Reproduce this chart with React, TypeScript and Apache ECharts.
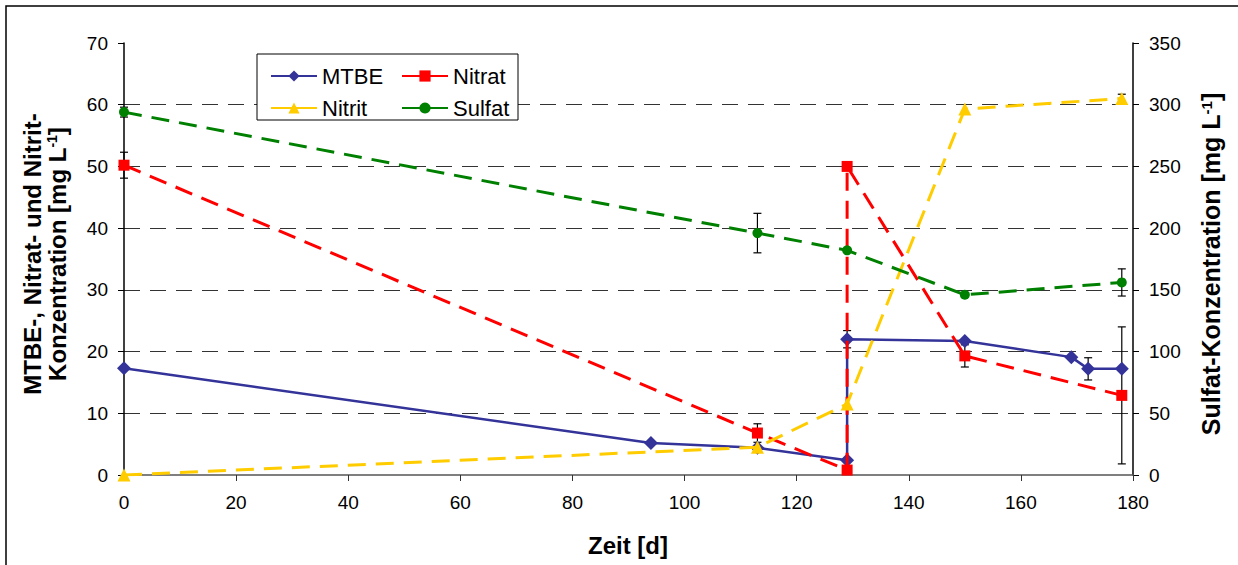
import React, { useEffect, useRef } from "react";
import * as echarts from "echarts";

// Zeit [d] and concentrations per measured substance
const mtbeDays = [0, 94, 113, 129, 129, 150, 169, 172, 178];
const mtbeValues = [17.3, 5.2, 4.4, 2.4, 22.0, 21.7, 19.1, 17.2, 17.2];

const nitratDays = [0, 113, 129, 129, 150, 178];
const nitratValues = [50.2, 6.8, 0.8, 50.0, 19.3, 12.9];

const nitritDays = [0, 113, 129, 150, 178];
const nitritValues = [0, 4.5, 11.5, 59.3, 61.0];

const sulfatDays = [0, 113, 129, 150, 178];
const sulfatValues = [294, 196, 182, 146, 156];

// Standard deviations (only where measured)
const mtbeErrDays = [129, 172];
const mtbeErrCenter = [22.0, 17.2];
const mtbeErrDelta = [1.4, 1.8];

const nitratErrDays = [0, 113, 150, 178];
const nitratErrCenter = [50.2, 6.8, 19.3, 12.9];
const nitratErrDelta = [2.1, 1.5, 1.8, 11.1];

const nitritErrDays = [178];
const nitritErrCenter = [61.0];
const nitritErrDelta = [0.7];

const sulfatErrDays = [0, 113, 178];
const sulfatErrCenter = [294, 196, 156];
const sulfatErrDelta = [4, 16, 11];

const xTicks = { min: 0, max: 180, interval: 20 };
const leftTicks = { min: 0, max: 70, interval: 10 };
const rightTicks = { min: 0, max: 350, interval: 50 };

const FONT = "'Liberation Sans', Arial, sans-serif";

const pairs = (xs: number[], ys: number[]) => xs.map((x, i) => [x, ys[i]]);
const errRows = (xs: number[], c: number[], d: number[]) =>
  xs.map((x, i) => [x, c[i] - d[i], c[i] + d[i]]);

const errorBarSeries = (name: string, data: number[][], yAxisIndex: number) => ({
  type: "custom",
  name,
  xAxisIndex: 0,
  yAxisIndex,
  data,
  z: 1,
  silent: true,
  encode: { x: 0, y: [1, 2] },
  renderItem: (_params: any, api: any) => {
    const x = api.value(0);
    const lo = api.coord([x, api.value(1)]);
    const hi = api.coord([x, api.value(2)]);
    const cw = 4;
    const st = { stroke: "#000", lineWidth: 1.2 };
    return {
      type: "group",
      children: [
        { type: "line", shape: { x1: lo[0], y1: lo[1], x2: hi[0], y2: hi[1] }, style: st },
        { type: "line", shape: { x1: lo[0] - cw, y1: lo[1], x2: lo[0] + cw, y2: lo[1] }, style: st },
        { type: "line", shape: { x1: hi[0] - cw, y1: hi[1], x2: hi[0] + cw, y2: hi[1] }, style: st },
      ],
    };
  },
});

const makeRich = (size: number) => ({
  b: { fontSize: size, fontWeight: "bold", fontFamily: FONT, lineHeight: 25, fill: "#000" },
  s: { fontSize: Math.round(size * 0.6), fontWeight: "bold", fontFamily: FONT, lineHeight: 15, verticalAlign: "top", fill: "#000" },
});

export default function App() {
  const ref = useRef<HTMLDivElement>(null);

  useEffect(() => {
    document.body.style.margin = "0";
    if (!ref.current) return;
    const chart = echarts.init(ref.current, undefined, { renderer: "svg" });

    const dash = [18, 10];
    const legendText = { color: "#000", fontSize: 22, fontFamily: FONT, lineHeight: 22 };

    chart.setOption({
      animation: false,
      backgroundColor: "#fff",
      textStyle: { fontFamily: FONT },
      grid: { left: 124, right: 105, top: 43, bottom: 90, containLabel: false },
      xAxis: {
        type: "value",
        ...xTicks,
        axisLine: { show: true, lineStyle: { color: "#555", width: 1.5 } },
        axisTick: { show: true, inside: false, length: 6, lineStyle: { color: "#333", width: 1 } },
        axisLabel: { color: "#000", fontSize: 19, fontFamily: FONT, margin: 18 },
        splitLine: { show: false },
      },
      yAxis: [
        {
          type: "value",
          position: "left",
          ...leftTicks,
          axisLine: { show: true, lineStyle: { color: "#000", width: 1.5 } },
          axisTick: { show: true, inside: false, length: 6, lineStyle: { color: "#000", width: 1 } },
          axisLabel: { color: "#000", fontSize: 19, fontFamily: FONT, margin: 16 },
          splitLine: {
            show: true,
            showMinLine: false,
            showMaxLine: false,
            lineStyle: { color: "#333", width: 1, type: [16, 10] },
          },
        },
        {
          type: "value",
          position: "right",
          ...rightTicks,
          axisLine: { show: true, lineStyle: { color: "#000", width: 1.5 } },
          axisTick: { show: true, inside: false, length: 6, lineStyle: { color: "#000", width: 1 } },
          axisLabel: { color: "#000", fontSize: 19, fontFamily: FONT, margin: 16 },
          splitLine: { show: false },
        },
      ],
      legend: [
        {
          left: 265,
          top: 60,
          orient: "vertical",
          itemWidth: 46,
          itemHeight: 14,
          itemGap: 10,
          z: 10,
          data: ["MTBE", "Nitrit"],
          textStyle: legendText,
          lineStyle: { type: "solid" },
        },
        {
          left: 396,
          top: 60,
          orient: "vertical",
          itemWidth: 46,
          itemHeight: 14,
          itemGap: 10,
          z: 10,
          data: ["Nitrat", "Sulfat"],
          textStyle: legendText,
          lineStyle: { type: "solid" },
        },
      ],
      graphic: [
        {
          type: "rect",
          z: 5,
          shape: { x: 257, y: 54, width: 261, height: 66 },
          style: { fill: "#fff", stroke: "#000", lineWidth: 1 },
        },
        {
          type: "rect",
          z: 5,
          shape: { x: 6, y: 6, width: 1250, height: 580 },
          style: { fill: "none", stroke: "#000", lineWidth: 1.5 },
        },
        {
          type: "text",
          z: 6,
          x: 628,
          y: 545,
          style: {
            text: "Zeit [d]",
            fontFamily: FONT,
            fontSize: 24,
            fontWeight: "bold",
            fill: "#000",
            textAlign: "center",
            textVerticalAlign: "middle",
          },
        },
        {
          type: "text",
          z: 6,
          x: 45,
          y: 254,
          rotation: Math.PI / 2,
          style: {
            text: "{b|MTBE-, Nitrat- und Nitrit-}\n{b|Konzentration [mg L}{s|-1}{b|]}",
            fontFamily: FONT,
            fill: "#000",
            textAlign: "center",
            textVerticalAlign: "middle",
            rich: makeRich(24),
          },
        },
        {
          type: "text",
          z: 6,
          x: 1211,
          y: 264,
          rotation: Math.PI / 2,
          style: {
            text: "{b|Sulfat-Konzentration [mg L}{s|-1}{b|]}",
            fontFamily: FONT,
            fill: "#000",
            textAlign: "center",
            textVerticalAlign: "middle",
            rich: makeRich(25),
          },
        },
      ],
      series: [
        errorBarSeries("errMTBE", errRows(mtbeErrDays, mtbeErrCenter, mtbeErrDelta), 0),
        errorBarSeries("errNitrat", errRows(nitratErrDays, nitratErrCenter, nitratErrDelta), 0),
        errorBarSeries("errNitrit", errRows(nitritErrDays, nitritErrCenter, nitritErrDelta), 0),
        errorBarSeries("errSulfat", errRows(sulfatErrDays, sulfatErrCenter, sulfatErrDelta), 1),
        {
          type: "line",
          name: "MTBE",
          data: pairs(mtbeDays, mtbeValues),
          yAxisIndex: 0,
          z: 3,
          color: "#333399",
          symbol: "diamond",
          symbolSize: 14,
          lineStyle: { color: "#333399", width: 2.5, type: "solid" },
          itemStyle: { color: "#333399" },
        },
        {
          type: "line",
          name: "Nitrat",
          data: pairs(nitratDays, nitratValues),
          yAxisIndex: 0,
          z: 4,
          color: "#FF0000",
          symbol: "rect",
          symbolSize: 11,
          lineStyle: { color: "#FF0000", width: 3, type: dash },
          itemStyle: { color: "#FF0000" },
        },
        {
          type: "line",
          name: "Nitrit",
          data: pairs(nitritDays, nitritValues),
          yAxisIndex: 0,
          z: 4,
          color: "#FFCC00",
          symbol: "triangle",
          symbolSize: 13,
          lineStyle: { color: "#FFCC00", width: 3, type: dash },
          itemStyle: { color: "#FFCC00" },
        },
        {
          type: "line",
          name: "Sulfat",
          data: pairs(sulfatDays, sulfatValues),
          yAxisIndex: 1,
          z: 4,
          color: "#008000",
          symbol: "circle",
          symbolSize: 10,
          lineStyle: { color: "#008000", width: 3, type: dash },
          itemStyle: { color: "#008000" },
        },
      ],
    });

    return () => chart.dispose();
  }, []);

  return <div ref={ref} style={{ width: 1238, height: 565 }} />;
}
